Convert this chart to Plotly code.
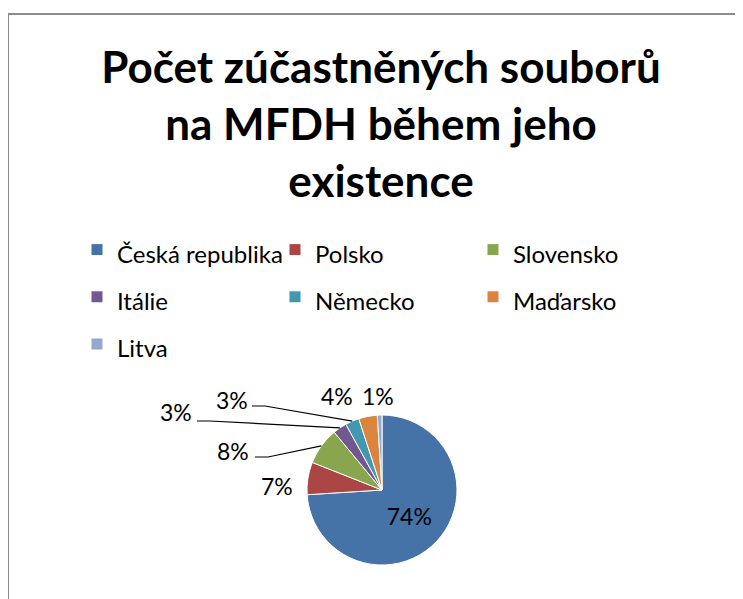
import math
import plotly.graph_objects as go

labels = ["Česká republika", "Polsko", "Slovensko", "Itálie", "Německo", "Maďarsko", "Litva"]
values = [74, 7, 8, 3, 3, 4, 1]
colors = ["#4572A7", "#AA4643", "#89A54E", "#71588F", "#4198AF", "#DB843D", "#93A9CF"]
title_text = "Počet zúčastněných souborů<br>na MFDH během jeho<br>existence"

# page offset (default body margin) and figure size
OX, OY = 8, 8
W, H = 735, 591
# layout in screen pixels
cx, cy, r = 382, 490, 75
label_pos = [None, (277, 486), (233, 451), (176, 412), (232, 400), (337, 396), (378, 396)]
leader_start = {2: (255, 457), 3: (197, 421), 4: (252, 406)}

def px(x, y):
    return (x - OX) / W, 1 - (y - OY) / H

total = sum(values)
pcts = [round(100 * v / total) for v in values]

x0d, y1d = px(cx - r, cy - r)
x1d, y0d = px(cx + r, cy + r)

fig = go.Figure(go.Pie(
    labels=[f'<span style="font-size:24px">{l}</span>' for l in labels],
    values=values,
    sort=False,
    direction="clockwise",
    rotation=0,
    marker=dict(colors=colors, line=dict(color="white", width=1)),
    textinfo="percent",
    texttemplate="%{percent:.0%}",
    textposition=["inside"] + ["none"] * 6,
    insidetextorientation="horizontal",
    insidetextfont=dict(family="Lato", size=23, color="black"),
    domain=dict(x=[x0d, x1d], y=[y0d, y1d]),
    hoverinfo="label+percent",
))

annotations = []
fx0, fy1 = px(8, 14)
shapes = [dict(type="rect", xref="paper", yref="paper", x0=fx0, x1=1.05, y0=-0.05, y1=fy1,
               line=dict(color="#8c8c8c", width=2), layer="below")]

cum = 0
for i, v in enumerate(values):
    mid = (cum + v / 2) / total * 2 * math.pi
    cum += v
    if label_pos[i] is None:
        continue
    lx, ly = label_pos[i]
    ax_, ay_ = px(lx, ly)
    annotations.append(dict(x=ax_, y=ay_, xref="paper", yref="paper", text=f"{pcts[i]}%",
                            showarrow=False, xanchor="center", yanchor="middle",
                            font=dict(family="Lato", size=23, color="black")))
    if i in leader_start:
        sx, sy = leader_start[i]
        ex, ey = cx + r * math.sin(mid), cy - r * math.cos(mid)
        p0, p1, p2 = px(sx, sy), px(sx + 13, sy), px(ex, ey)
        shapes.append(dict(type="path", xref="paper", yref="paper",
                           path=f"M{p0[0]},{p0[1]} L{p1[0]},{p1[1]} L{p2[0]},{p2[1]}",
                           line=dict(color="black", width=1.2)))

tx, ty = px(381, 70)
lgx, lgy = px(77, 221)

fig.update_layout(
    width=W, height=H,
    margin=dict(l=0, r=0, t=0, b=0),
    paper_bgcolor="white",
    title=dict(text=title_text, x=tx, xanchor="center", y=1 - 75 / H, yanchor="top",
               font=dict(family="Lato", size=44, color="black", weight="bold")),
    legend=dict(orientation="h", x=lgx, xanchor="left", y=lgy, yanchor="top",
                font=dict(family="Lato", size=34, color="black"),
                entrywidth=153, itemwidth=30),
    annotations=annotations,
    shapes=shapes,
)

fig.write_html("out.html")
